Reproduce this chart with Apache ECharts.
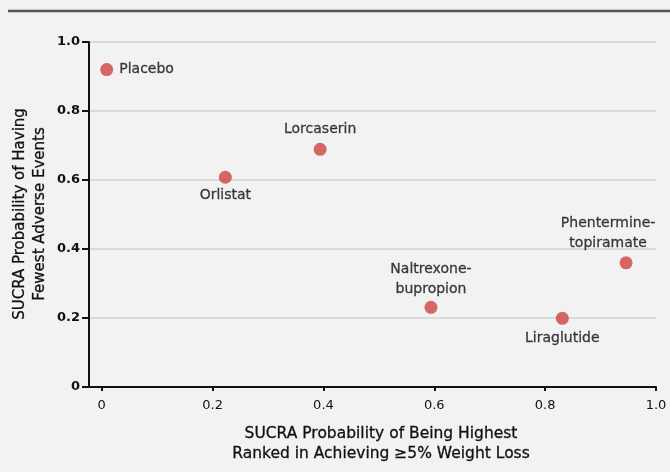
<!DOCTYPE html>
<html>
<head>
<meta charset="utf-8">
<script src="https://cdn.jsdelivr.net/npm/echarts@6/dist/echarts.min.js"></script>
<style>
  html, body { margin: 0; padding: 0; background: #f2f2f2; }
  #chart { width: 670px; height: 472px; }
</style>
</head>
<body>
<div id="chart"></div>
<script>
// Treatments and their SUCRA probabilities
const drugs = ['Placebo', 'Orlistat', 'Lorcaserin', 'Naltrexone-\nbupropion', 'Liraglutide', 'Phentermine-\ntopiramate'];
const weightLossSucra = [0.009, 0.223, 0.394, 0.594, 0.831, 0.946];
const adverseEventSucra = [0.92, 0.608, 0.689, 0.231, 0.199, 0.360];
const tickValues = [0, 0.2, 0.4, 0.6, 0.8, 1.0];
const xTitle = 'SUCRA Probability of Being Highest\nRanked in Achieving \u22655% Weight Loss';
const yTitle = 'SUCRA Probability of Having\nFewest Adverse Events';

// label placement for each point
const labelPlacement = [
  { position: 'right', distance: 6, offset: [0, 0] },
  { position: 'bottom', distance: 2, offset: [0, 0] },
  { position: 'top', distance: 3, offset: [0, 0] },
  { position: 'top', distance: 1, offset: [0, 0] },
  { position: 'bottom', distance: 4, offset: [0, 0] },
  { position: 'top', distance: 3, offset: [-18, 0] }
];

const font = '"DejaVu Sans", sans-serif';
const ink = '#111';
const fmt = v => (v === 0 ? '0' : v.toFixed(1));

const points = drugs.map((name, i) => ({
  name: name,
  value: [weightLossSucra[i], adverseEventSucra[i]],
  label: {
    position: labelPlacement[i].position,
    distance: labelPlacement[i].distance,
    offset: labelPlacement[i].offset
  }
}));

const titleStyle = {
  align: 'center',
  fill: ink,
  stroke: ink,
  lineWidth: 0.3,
  fontFamily: font,
  lineHeight: 20
};

const chart = echarts.init(document.getElementById('chart'), null, { renderer: 'canvas' });
chart.setOption({
  backgroundColor: '#f2f2f2',
  animation: false,
  grid: { left: 89, right: 14, top: 42, bottom: 85, outerBoundsMode: 'none', containLabel: false },
  xAxis: {
    type: 'value',
    min: -0.023,
    max: 1.0,
    axisLine: { show: true, onZero: false, lineStyle: { color: ink, width: 2 } },
    axisTick: { show: true, customValues: tickValues, length: 4, lineStyle: { color: ink, width: 2 } },
    axisLabel: { customValues: tickValues, formatter: fmt, color: ink, fontSize: 13, fontFamily: font, margin: 12 },
    splitLine: { show: false }
  },
  yAxis: {
    type: 'value',
    min: 0,
    max: 1.0,
    interval: 0.2,
    axisLine: { show: true, onZero: false, lineStyle: { color: ink, width: 2 } },
    axisTick: { show: true, length: 7, lineStyle: { color: ink, width: 2 } },
    axisLabel: { formatter: fmt, color: ink, fontSize: 13, fontFamily: font, fontWeight: 'bold', margin: 9 },
    splitLine: { show: true, lineStyle: { color: '#d2d2d2', width: 1.5 } }
  },
  graphic: [
    {
      type: 'line',
      shape: { x1: 8, y1: 11, x2: 670, y2: 11 },
      style: { stroke: '#555', lineWidth: 2.5 }
    },
    {
      type: 'text',
      x: 381,
      y: 424,
      style: Object.assign({ text: xTitle, verticalAlign: 'top', fontSize: 15.5 }, titleStyle)
    },
    {
      type: 'text',
      x: 30,
      y: 214,
      rotation: Math.PI / 2,
      style: Object.assign({ text: yTitle, verticalAlign: 'middle', fontSize: 15 }, titleStyle)
    }
  ],
  series: [{
    type: 'scatter',
    symbolSize: 13,
    itemStyle: { color: '#cc443f' },
    data: points,
    label: {
      show: true,
      formatter: p => p.name,
      color: ink,
      textBorderColor: ink,
      textBorderWidth: 0.3,
      fontSize: 14,
      fontFamily: font,
      lineHeight: 20
    }
  }]
});
</script>
</body>
</html>
